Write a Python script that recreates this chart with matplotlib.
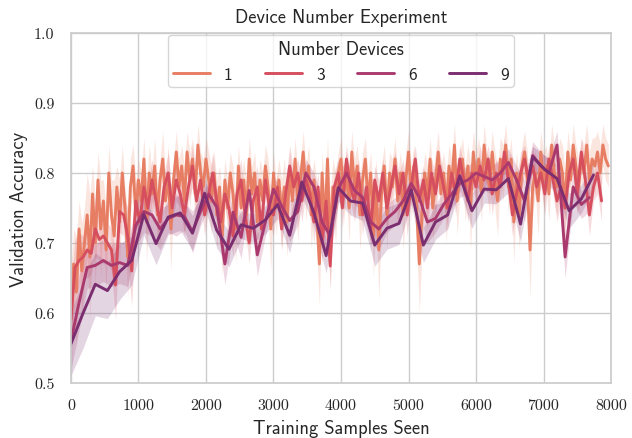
import numpy as np
import matplotlib
matplotlib.use("Agg")
import matplotlib.pyplot as plt
import seaborn as sns

# ----------------------------------------------------
# Data (validation accuracy)
# ----------------------------------------------------

device_counts = ["1", "3", "6", "9"]

# evaluation interval in training samples for each device count
sample_step = {"1": 40, "3": 60, "6": 120, "9": 180}

acc_1 = [
    0.60, 0.67, 0.63, 0.72, 0.66, 0.70, 0.74, 0.68, 0.77, 0.70,
    0.79, 0.72, 0.76, 0.69, 0.80, 0.74, 0.71, 0.78, 0.73, 0.80,
    0.75, 0.68, 0.78, 0.81, 0.74, 0.79, 0.76, 0.82, 0.73, 0.80,
    0.77, 0.81, 0.74, 0.79, 0.82, 0.76, 0.80, 0.72, 0.79, 0.83,
    0.78, 0.81, 0.76, 0.83, 0.79, 0.82, 0.77, 0.84, 0.80, 0.78,
    0.82, 0.79, 0.76, 0.80, 0.74, 0.78, 0.71, 0.79, 0.75, 0.80,
    0.77, 0.72, 0.81, 0.75, 0.79, 0.74, 0.82, 0.77, 0.80, 0.73,
    0.79, 0.76, 0.81, 0.78, 0.72, 0.80, 0.75, 0.79, 0.74, 0.78,
    0.73, 0.80, 0.76, 0.82, 0.75, 0.79, 0.83, 0.77, 0.81, 0.74,
    0.79, 0.74, 0.67, 0.80, 0.72, 0.82, 0.70, 0.78, 0.75, 0.80,
    0.82, 0.77, 0.80, 0.75, 0.83, 0.78, 0.81, 0.74, 0.79, 0.82,
    0.76, 0.80, 0.71, 0.78, 0.69, 0.77, 0.81, 0.74, 0.80, 0.78,
    0.82, 0.76, 0.80, 0.74, 0.79, 0.83, 0.77, 0.81, 0.75, 0.67,
    0.74, 0.80, 0.77, 0.82, 0.75, 0.79, 0.83, 0.77, 0.80, 0.75,
    0.81, 0.78, 0.84, 0.76, 0.80, 0.82, 0.77, 0.81, 0.75, 0.83,
    0.79, 0.82, 0.77, 0.84, 0.80, 0.78, 0.83, 0.79, 0.76, 0.82,
    0.80, 0.84, 0.78, 0.82, 0.73, 0.80, 0.74, 0.81, 0.83, 0.79,
    0.69, 0.78, 0.80, 0.76, 0.83, 0.79, 0.81, 0.77, 0.84, 0.80,
    0.78, 0.82, 0.80, 0.75, 0.83, 0.79, 0.84, 0.81, 0.78, 0.82,
    0.80, 0.84, 0.79, 0.82, 0.81, 0.83, 0.80, 0.84, 0.82, 0.81,
]

spread_1 = [
    0.06, 0.05, 0.08, 0.04, 0.07, 0.05, 0.06, 0.09, 0.04, 0.06,
    0.04, 0.07, 0.03, 0.06, 0.04, 0.05, 0.08, 0.03, 0.06, 0.04,
    0.03, 0.06, 0.04, 0.03, 0.05, 0.03, 0.04, 0.03, 0.06, 0.04,
    0.03, 0.04, 0.05, 0.03, 0.04, 0.03, 0.04, 0.06, 0.03, 0.03,
    0.04, 0.03, 0.05, 0.03, 0.04, 0.03, 0.04, 0.03, 0.03, 0.04,
    0.03, 0.04, 0.05, 0.03, 0.05, 0.03, 0.06, 0.03, 0.04, 0.03,
    0.04, 0.05, 0.03, 0.04, 0.03, 0.05, 0.03, 0.04, 0.03, 0.05,
    0.03, 0.04, 0.03, 0.04, 0.06, 0.03, 0.04, 0.03, 0.05, 0.04,
    0.05, 0.03, 0.04, 0.03, 0.05, 0.03, 0.03, 0.04, 0.03, 0.05,
    0.03, 0.05, 0.06, 0.03, 0.05, 0.03, 0.07, 0.04, 0.05, 0.03,
    0.03, 0.04, 0.03, 0.05, 0.03, 0.04, 0.03, 0.05, 0.04, 0.03,
    0.04, 0.03, 0.06, 0.04, 0.07, 0.04, 0.03, 0.05, 0.03, 0.04,
    0.03, 0.04, 0.03, 0.05, 0.04, 0.03, 0.04, 0.03, 0.05, 0.07,
    0.05, 0.03, 0.04, 0.03, 0.05, 0.04, 0.03, 0.04, 0.03, 0.05,
    0.03, 0.04, 0.03, 0.05, 0.03, 0.03, 0.04, 0.03, 0.06, 0.03,
    0.04, 0.03, 0.04, 0.03, 0.03, 0.04, 0.03, 0.04, 0.05, 0.03,
    0.04, 0.03, 0.04, 0.03, 0.06, 0.03, 0.05, 0.03, 0.03, 0.04,
    0.07, 0.04, 0.03, 0.05, 0.03, 0.04, 0.03, 0.04, 0.03, 0.04,
    0.04, 0.03, 0.04, 0.05, 0.03, 0.04, 0.03, 0.03, 0.04, 0.03,
    0.04, 0.03, 0.04, 0.03, 0.04, 0.03, 0.04, 0.03, 0.03, 0.03,
]

acc_3 = [
    0.59, 0.665, 0.675, 0.68, 0.69, 0.685, 0.72, 0.705, 0.71, 0.70,
    0.69, 0.64, 0.745, 0.74, 0.71, 0.66, 0.76, 0.73, 0.78, 0.75,
    0.79, 0.76, 0.73, 0.78, 0.80, 0.75, 0.79, 0.77, 0.74, 0.78,
    0.81, 0.76, 0.79, 0.74, 0.77, 0.80, 0.76, 0.73, 0.77, 0.75,
    0.71, 0.77, 0.79, 0.74, 0.70, 0.76, 0.78, 0.72, 0.79, 0.75,
    0.74, 0.78, 0.72, 0.77, 0.81, 0.78, 0.80, 0.76, 0.79, 0.77,
    0.73, 0.78, 0.70, 0.76, 0.667, 0.78, 0.80, 0.75, 0.82, 0.78,
    0.76, 0.80, 0.74, 0.78, 0.72, 0.79, 0.76, 0.80, 0.75, 0.78,
    0.81, 0.77, 0.80, 0.74, 0.78, 0.82, 0.76, 0.79, 0.75, 0.80,
    0.77, 0.81, 0.78, 0.75, 0.80, 0.77, 0.82, 0.79, 0.76, 0.80,
    0.78, 0.81, 0.79, 0.82, 0.77, 0.80, 0.78, 0.83, 0.79, 0.74,
    0.77, 0.80, 0.82, 0.79, 0.81, 0.78, 0.80, 0.77, 0.82, 0.79,
    0.76, 0.78, 0.75, 0.80, 0.82, 0.77, 0.83, 0.79, 0.74, 0.78,
    0.80, 0.76,
]

spread_3 = [
    0.05, 0.04, 0.04, 0.03, 0.04, 0.03, 0.04, 0.03, 0.04, 0.03,
    0.03, 0.05, 0.03, 0.03, 0.04, 0.05, 0.03, 0.03, 0.03, 0.03,
    0.03, 0.02, 0.03, 0.02, 0.03, 0.02, 0.03, 0.02, 0.03, 0.02,
    0.03, 0.02, 0.03, 0.03, 0.02, 0.03, 0.02, 0.03, 0.02, 0.03,
    0.03, 0.02, 0.03, 0.02, 0.03, 0.02, 0.03, 0.02, 0.03, 0.02,
    0.03, 0.02, 0.03, 0.02, 0.03, 0.02, 0.02, 0.03, 0.02, 0.02,
    0.03, 0.02, 0.03, 0.02, 0.03, 0.02, 0.02, 0.03, 0.02, 0.02,
    0.03, 0.02, 0.03, 0.02, 0.03, 0.02, 0.03, 0.02, 0.03, 0.02,
    0.02, 0.03, 0.02, 0.03, 0.02, 0.02, 0.03, 0.02, 0.03, 0.02,
    0.03, 0.02, 0.02, 0.03, 0.02, 0.03, 0.02, 0.02, 0.03, 0.02,
    0.02, 0.03, 0.02, 0.02, 0.03, 0.02, 0.02, 0.02, 0.03, 0.03,
    0.02, 0.03, 0.02, 0.02, 0.03, 0.02, 0.02, 0.03, 0.02, 0.02,
    0.03, 0.02, 0.03, 0.02, 0.02, 0.03, 0.02, 0.02, 0.03, 0.02,
    0.03, 0.03,
]

acc_6 = [
    0.56, 0.615, 0.665, 0.668, 0.675, 0.668, 0.672, 0.668, 0.725, 0.745,
    0.74, 0.72, 0.735, 0.74, 0.738, 0.716, 0.745, 0.77, 0.751, 0.67,
    0.744, 0.708, 0.775, 0.683, 0.73, 0.777, 0.753, 0.732, 0.745, 0.80,
    0.78, 0.73, 0.71, 0.777, 0.80, 0.775, 0.765, 0.73, 0.72, 0.735,
    0.745, 0.76, 0.785, 0.765, 0.73, 0.735, 0.755, 0.77, 0.785, 0.79,
    0.80, 0.795, 0.79, 0.80, 0.815, 0.79, 0.76, 0.825, 0.81, 0.80,
    0.84, 0.68, 0.78, 0.755, 0.765,
]

spread_6 = [
    0.04, 0.04, 0.03, 0.03, 0.03, 0.03, 0.03, 0.03, 0.03, 0.03,
    0.03, 0.03, 0.02, 0.03, 0.02, 0.03, 0.02, 0.02, 0.02, 0.03,
    0.03, 0.03, 0.02, 0.03, 0.02, 0.02, 0.02, 0.03, 0.02, 0.02,
    0.02, 0.03, 0.03, 0.02, 0.02, 0.02, 0.02, 0.03, 0.03, 0.02,
    0.02, 0.02, 0.02, 0.02, 0.03, 0.02, 0.02, 0.02, 0.02, 0.02,
    0.02, 0.02, 0.02, 0.02, 0.02, 0.02, 0.03, 0.02, 0.02, 0.02,
    0.02, 0.03, 0.02, 0.02, 0.02,
]

acc_9 = [
    0.556, 0.60, 0.641, 0.632, 0.659, 0.675, 0.741, 0.699, 0.737, 0.743,
    0.714, 0.771, 0.718, 0.691, 0.726, 0.721, 0.733, 0.755, 0.711, 0.787,
    0.743, 0.682, 0.779, 0.760, 0.757, 0.697, 0.721, 0.728, 0.776, 0.697,
    0.730, 0.740, 0.796, 0.746, 0.777, 0.776, 0.792, 0.727, 0.823, 0.805,
    0.792, 0.746, 0.763, 0.797,
]

spread_9 = [
    0.045, 0.05, 0.045, 0.04, 0.04, 0.035, 0.03, 0.03, 0.025, 0.025,
    0.025, 0.02, 0.025, 0.025, 0.02, 0.02, 0.02, 0.02, 0.025, 0.02,
    0.02, 0.025, 0.02, 0.02, 0.025, 0.03, 0.03, 0.03, 0.02, 0.025,
    0.025, 0.02, 0.02, 0.025, 0.02, 0.02, 0.02, 0.025, 0.015, 0.02,
    0.02, 0.025, 0.02, 0.02,
]

accuracy = {"1": acc_1, "3": acc_3, "6": acc_6, "9": acc_9}
spread = {"1": spread_1, "3": spread_3, "6": spread_6, "9": spread_9}

# ----------------------------------------------------
# Plot
# ----------------------------------------------------

sns.set_theme(style="whitegrid")

plt.rcParams["axes.edgecolor"] = "#cccccc"
plt.rcParams["axes.linewidth"] = 1.25
plt.rcParams["grid.color"] = "#cccccc"

colors = sns.color_palette("flare", len(device_counts))

fig = plt.figure(figsize=(6.32, 4.39), dpi=100)
ax = fig.add_axes([0.1123, 0.1253, 0.8545, 0.7973])

for devices, color in zip(device_counts, colors):

    y = np.array(accuracy[devices])
    err = np.array(spread[devices])
    x = np.arange(len(y)) * sample_step[devices]

    ax.fill_between(x, y - err, y + err, color=color, alpha=0.2, linewidth=0)

    ax.plot(x, y, color=color, linewidth=2.1, label=devices)

ax.set_xlim(0, 8000)
ax.set_ylim(0.5, 1.0)
ax.set_xticks(range(0, 8001, 1000))
ax.set_yticks([0.5, 0.6, 0.7, 0.8, 0.9, 1.0])

for label in ax.get_xticklabels() + ax.get_yticklabels():
    label.set_fontfamily("cmr10")
    label.set_fontsize(11.5)

ax.tick_params(axis="x", which="both", length=0, pad=11)
ax.tick_params(axis="y", which="both", length=0, pad=12)

ax.set_xlabel("Training Samples Seen", fontfamily="cmss10", fontsize=13.3, labelpad=5)
ax.set_ylabel("Validation Accuracy", fontfamily="cmss10", fontsize=13.3, labelpad=4)
ax.set_title("Device Number Experiment", fontfamily="cmss10", fontsize=13.3, pad=8)

legend = ax.legend(
    title="Number Devices",
    loc="upper center",
    ncol=4,
    frameon=True,
    prop={"family": "cmss10", "size": 12.5},
    title_fontproperties={"family": "cmss10", "size": 13.3},
    borderaxespad=0.1,
    borderpad=0.3,
    columnspacing=1.9,
    handlelength=2.1,
)
legend.get_frame().set_edgecolor("#cccccc")

fig.savefig("out.png", dpi=100)
